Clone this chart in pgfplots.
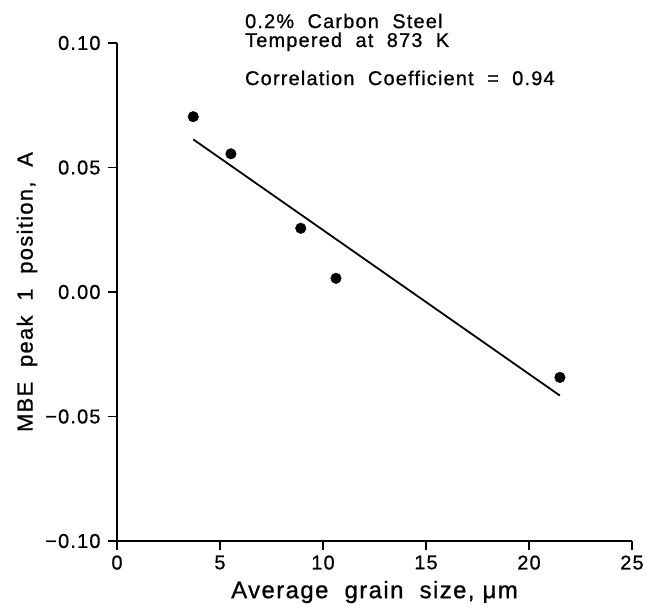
\documentclass[border=0pt]{standalone}
\usepackage{fontspec}
\setmainfont{Liberation Sans}[LetterSpace=6, FakeBold=0.8]
\usepackage{pgfplots}
\pgfplotsset{compat=1.18}
\begin{document}
\begin{tikzpicture}
\begin{axis}[
  scale only axis, width=515bp, height=498bp,
  xmin=0, xmax=25, ymin=-0.1, ymax=0.1,
  axis lines=left, axis line style={-, line width=1.8bp},
  tick align=outside, major tick length=9bp,
  tick style={line width=1.8bp, black},
  xtick={0,5,10,15,20,25}, xticklabels={0,5,10,15,20,25},
  ytick={-0.1,-0.05,0,0.05,0.1}, yticklabels={−0.10,−0.05,0.00,0.05,0.10},
  ticklabel style={font=\fontsize{20}{23}\selectfont},
  yticklabel style={xshift=-4bp},
  xticklabel style={yshift=-2bp},
  xlabel={Average\ \ grain\ \ size,\ μm},
  ylabel={MBE\ \ peak\ \ 1\ \ position,\ \ A},
  label style={font=\fontsize{24}{28}\selectfont},
  xlabel style={at={(axis description cs:0.5,-0.1024)}, anchor=center},
  ylabel style={at={(axis description cs:-0.1748,0.5)}, anchor=center, font=\fontsize{22}{26}\selectfont},
  clip=false,
]
\addplot[only marks, mark=*, mark size=5.3bp, black] coordinates {
  (3.70,0.0704) (5.53,0.0555) (8.92,0.0256) (10.63,0.0055) (21.50,-0.0343)
};
\addplot[black, line width=1.8bp] coordinates {(3.70,0.0613) (21.50,-0.0416)};
\node[anchor=base west, inner sep=0, font=\fontsize{20}{23}\selectfont] at (axis cs:6.21,0.1060) {0.2\%\ \ Carbon\ \ Steel};
\node[anchor=base west, inner sep=0, font=\fontsize{20}{23}\selectfont] at (axis cs:6.21,0.0984) {Tempered\ \ at\ \ 873\ \ K};
\node[anchor=base west, inner sep=0, font=\fontsize{20}{23}\selectfont] at (axis cs:6.21,0.0831) {Correlation\ \ Coefficient\ \ =\ \ 0.94};
\coordinate (ll) at (axis cs:0,-0.1);
\coordinate (ur) at (axis cs:25,0.1);
\end{axis}
\pgfresetboundingbox
\path[use as bounding box] ([xshift=-117bp,yshift=-67bp]ll) rectangle ([xshift=14bp,yshift=43bp]ur);
\end{tikzpicture}
\end{document}
